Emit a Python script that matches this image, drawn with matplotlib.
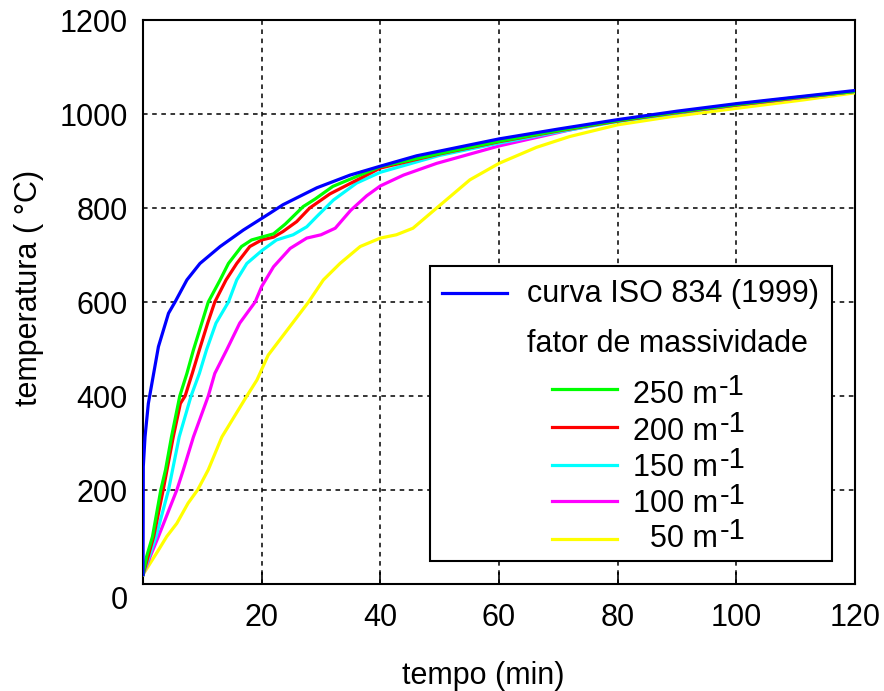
import matplotlib
matplotlib.use('Agg')
import matplotlib.pyplot as plt
from matplotlib.patches import Rectangle

plt.rcParams['font.family'] = ['Liberation Sans', 'DejaVu Sans']

# curva ISO 834 (1999)
t_iso = [0, 0.05, 0.34, 0.9, 1.6, 2.6, 4.3, 5.4, 7.4, 9.6, 13.0, 16.9, 21.4, 23.6, 29.3, 34.9, 40, 46.1, 60, 70, 80, 90, 100, 110, 120]
T_iso = [20, 250, 313, 384, 434, 505, 576, 600, 647, 682, 718, 753, 789, 807, 843, 870, 889, 911, 947, 968, 988, 1006, 1022, 1036, 1050]

# fator de massividade 250 m-1
t_250 = [0, 0.6, 1.6, 3.0, 3.8, 4.8, 6.2, 7.4, 8.5, 9.9, 11.0, 13.0, 14.4, 16.6, 18.3, 20, 22, 24, 27, 29, 32, 40, 50, 60, 70, 80, 90, 100, 110, 120]
T_250 = [20, 58, 101, 200, 243, 313, 400, 448, 498, 555, 600, 647, 682, 718, 732, 738, 745, 766, 803, 819, 846, 888, 916, 942, 965, 986, 1004, 1020, 1035, 1048]

# 200 m-1
t_200 = [0, 1.8, 3.4, 5.1, 6.3, 7.1, 8.3, 9.5, 10.9, 12.1, 14.0, 15.8, 18.0, 20, 22, 23.6, 25.9, 28.1, 31.5, 40, 50, 60, 70, 80, 90, 100, 110, 120]
T_200 = [20, 101, 200, 313, 384, 400, 448, 498, 555, 600, 647, 682, 718, 732, 738, 750, 771, 800, 830, 885, 915, 941, 964, 985, 1003, 1019, 1034, 1048]

# 150 m-1
t_150 = [0, 2.2, 4.3, 6.1, 8.1, 9.5, 10.7, 12.3, 14.4, 15.8, 17.5, 20, 22.5, 25.3, 27.6, 29.3, 32.1, 36.0, 40, 50, 60, 70, 80, 90, 100, 110, 120]
T_150 = [20, 101, 200, 313, 400, 448, 498, 555, 600, 647, 682, 709, 732, 743, 760, 782, 817, 853, 876, 912, 938, 962, 984, 1002, 1019, 1034, 1048]

# 100 m-1
t_100 = [0, 1.2, 2.6, 3.7, 5.7, 6.8, 8.5, 11.0, 12.1, 14.1, 16.3, 18.9, 20, 22.0, 24.8, 27.6, 30.0, 32.4, 35.0, 37.7, 40, 43.9, 49.5, 60, 71.9, 80, 100, 120]
T_100 = [20, 58, 101, 136, 200, 243, 313, 400, 448, 498, 555, 600, 633, 675, 714, 736, 743, 757, 795, 826, 847, 870, 895, 932, 966, 986, 1019, 1048]

# 50 m-1
t_50 = [0, 2.6, 4.0, 5.7, 7.6, 9.2, 11.0, 13.3, 17.5, 19.2, 21.1, 27.9, 30.4, 33.2, 36.6, 40, 42.7, 45.5, 49.5, 55.1, 60, 66.3, 71.9, 80, 88.8, 100, 111.3, 120]
T_50 = [20, 72, 101, 129, 172, 200, 243, 313, 400, 434, 487, 600, 647, 682, 718, 736, 743, 757, 800, 860, 895, 929, 952, 977, 994, 1012, 1030, 1045]

steel = [
    (t_50, T_50, '#ffff00', '  50 m'),
    (t_100, T_100, '#ff00ff', '100 m'),
    (t_150, T_150, '#00ffff', '150 m'),
    (t_200, T_200, '#ff0000', '200 m'),
    (t_250, T_250, '#00ff00', '250 m'),
]

xticks = [0, 20, 40, 60, 80, 100, 120]
yticks = [0, 200, 400, 600, 800, 1000, 1200]

fig = plt.figure(figsize=(8.84, 6.91), dpi=100)
ax = fig.add_axes([143 / 884, 107 / 691, 712 / 884, 564 / 691])

for t, T, c, lab in steel:
    ax.plot(t, T, color=c, lw=2.3, zorder=3, solid_joinstyle='round')
ax.plot(t_iso, T_iso, color='#0000ff', lw=2.3, zorder=4, solid_joinstyle='round')

ax.set_xlim(0, 120)
ax.set_ylim(0, 1200)
ax.set_xticks(xticks)
ax.set_xticklabels([''] + [str(v) for v in xticks[1:]])
ax.set_yticks(yticks)
ax.set_yticklabels([''] + [str(v) for v in yticks[1:]])
ax.tick_params(axis='x', direction='in', length=9, width=1.2, labelsize=22, pad=14)
ax.tick_params(axis='y', direction='in', length=0, labelsize=22, pad=11)
ax.annotate('0', xy=(0, 0), xycoords='data', xytext=(-11, -12), textcoords='offset points',
            ha='right', va='center', fontsize=22)
ax.grid(True, color='black', linestyle=(0, (3, 3)), lw=1.1)
for s in ax.spines.values():
    s.set_linewidth(1.5)

ax.set_xlabel('tempo (min)', fontsize=22)
ax.xaxis.set_label_coords((483 - 143) / 712, (584 - 661) / 564)
ax.set_ylabel('temperatura ( °C)', fontsize=22)
ax.yaxis.set_label_coords((44 - 143) / 712, (584 - 288) / 564)


# legend drawn by hand, positions in pixels of the figure
def pos(x, y):
    return ((x - 143) / 712, (584 - y) / 564)


x0, y0 = pos(430, 561)
x1, y1 = pos(832, 266)
ax.add_patch(Rectangle((x0, y0), x1 - x0, y1 - y0, transform=ax.transAxes,
                       facecolor='white', edgecolor='black', lw=1.5, zorder=6))

a, b = pos(442, 293)
c, _ = pos(507, 293)
ax.plot([a, c], [b, b], transform=ax.transAxes, color='#0000ff', lw=2.3, zorder=7)
ax.text(*pos(527, 302), 'curva ISO 834 (1999)', transform=ax.transAxes,
        fontsize=22, va='baseline', ha='left', zorder=7)
ax.text(*pos(527, 352), 'fator de massividade', transform=ax.transAxes,
        fontsize=22, va='baseline', ha='left', zorder=7)

line_y = [389, 427, 465, 501, 539]
base_y = [403, 440, 476, 512, 547]
for (t, T, col, lab), ly, by in zip(steel[::-1], line_y, base_y):
    a, b = pos(552, ly)
    c, _ = pos(617, ly)
    ax.plot([a, c], [b, b], transform=ax.transAxes, color=col, lw=2.3, zorder=7)
    txt = ax.text(*pos(633, by), lab, transform=ax.transAxes,
                  fontsize=22, va='baseline', ha='left', zorder=7)
    ax.annotate('-1', xy=(1, 0), xycoords=txt, xytext=(1, 10.5), textcoords='offset points',
                fontsize=21, ha='left', va='baseline', zorder=7)

fig.savefig('out.png', dpi=100, facecolor='white')
